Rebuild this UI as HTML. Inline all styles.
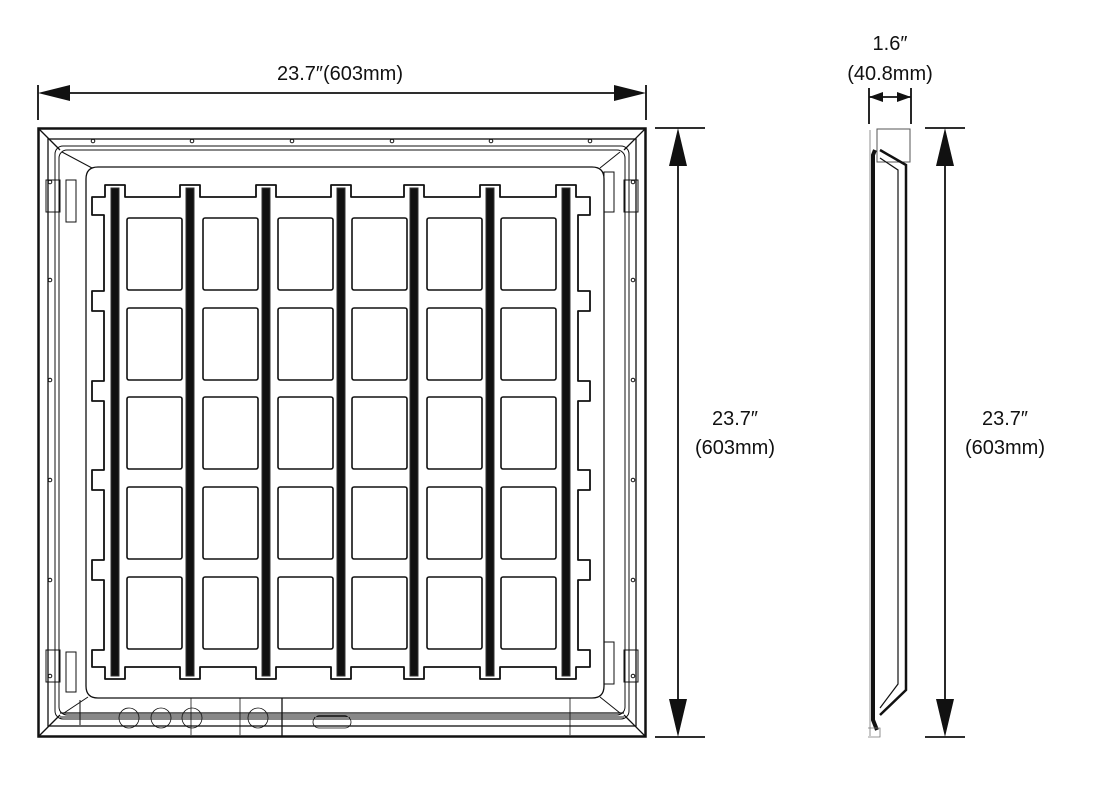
<!DOCTYPE html>
<html><head><meta charset="utf-8"><style>
html,body{margin:0;padding:0;background:#fff;}
svg{display:block}
text{font-family:"Liberation Sans",sans-serif;font-size:20px;fill:#111;}
</style></head><body>
<svg id="s" width="1096" height="792" viewBox="0 0 1096 792" xmlns="http://www.w3.org/2000/svg">
<g fill="none" stroke="#111">
<rect x="38.5" y="128.5" width="607" height="608" stroke-width="2.5"/>
<rect x="48" y="139" width="588" height="587" stroke-width="1.3"/>
<rect x="55" y="146" width="574" height="573" rx="8" stroke-width="1"/>
<rect x="59" y="150" width="566" height="565" rx="8" stroke-width="1"/>
<line x1="38" y1="128" x2="60" y2="150" stroke-width="1.3"/>
<line x1="646" y1="128" x2="624" y2="150" stroke-width="1.3"/>
<line x1="38" y1="737" x2="60" y2="715" stroke-width="1.3"/>
<line x1="646" y1="737" x2="624" y2="715" stroke-width="1.3"/>
<path d="M98,167 H592 Q604,167 604,179 V686 Q604,698 592,698 H98 Q86,698 86,686 V179 Q86,167 98,167 Z" stroke-width="1.3"/>
<path d="M62,152 L92,168 M620,152 L600,168 M64,713 L88,697 M620,713 L600,697" stroke-width="1"/>
<line x1="80" y1="700" x2="80" y2="725" stroke-width="1"/>
<line x1="60" y1="713" x2="624" y2="713" stroke-width="1.3"/>
<line x1="60" y1="717" x2="624" y2="717" stroke-width="1"/>
<line x1="191" y1="698" x2="191" y2="735" stroke-width="0.8"/>
<line x1="240" y1="698" x2="240" y2="735" stroke-width="0.8"/>
<line x1="282" y1="698" x2="282" y2="737" stroke-width="1.3"/>
<line x1="570" y1="698" x2="570" y2="735" stroke-width="0.8"/>
<circle cx="129" cy="718" r="10" stroke-width="0.8"/>
<circle cx="161" cy="718" r="10" stroke-width="0.8"/>
<circle cx="192" cy="718" r="10" stroke-width="0.8"/>
<circle cx="258" cy="718" r="10" stroke-width="0.8"/>
<rect x="313" y="716" width="38" height="12" rx="6" stroke-width="0.8"/>
<rect x="46" y="180" width="14" height="32" stroke-width="1"/>
<rect x="46" y="650" width="14" height="32" stroke-width="1"/>
<rect x="624" y="180" width="14" height="32" stroke-width="1"/>
<rect x="624" y="650" width="14" height="32" stroke-width="1"/>
<path d="M66,180 H76 V222 H66 Z M604,172 H614 V212 H604 Z M66,652 H76 V692 H66 Z M604,642 H614 V684 H604 Z" stroke-width="1"/>
</g>
<g id="dots" fill="none" stroke="#111" stroke-width="1"></g>
<g id="grid" fill="none" stroke="#111"></g>
<g fill="none" stroke="#111">
<rect x="877" y="129" width="33" height="33" stroke-width="1" stroke="#555"/>
<path d="M875,150 L873,155 L873,720 L877,730" stroke-width="4"/>
<path d="M880,150 L906,165 L906,690 L880,715" stroke-width="2.5"/>
<path d="M880,158 L898,170 L898,684 L880,708" stroke-width="1.2"/>
<path d="M870,130 V736 M868,728 H880 V737 H868" stroke-width="0.8" stroke="#777"/>
</g>
<g stroke="#111" stroke-width="1.8" fill="none">
<line x1="38" y1="85" x2="38" y2="120"/>
<line x1="646" y1="85" x2="646" y2="120"/>
<line x1="60" y1="93" x2="624" y2="93"/>
<line x1="655" y1="128" x2="705" y2="128"/>
<line x1="655" y1="737" x2="705" y2="737"/>
<line x1="678" y1="160" x2="678" y2="705"/>
<line x1="925" y1="128" x2="965" y2="128"/>
<line x1="925" y1="737" x2="965" y2="737"/>
<line x1="945" y1="160" x2="945" y2="705"/>
<line x1="869" y1="88" x2="869" y2="124"/>
<line x1="911" y1="88" x2="911" y2="124"/>
<line x1="869" y1="97" x2="911" y2="97"/>
</g>
<g fill="#111">
<polygon points="38,93 70,85 70,101"/>
<polygon points="646,93 614,85 614,101"/>
<polygon points="678,128 669,166 687,166"/>
<polygon points="678,737 669,699 687,699"/>
<polygon points="945,128 936,166 954,166"/>
<polygon points="945,737 936,699 954,699"/>
<polygon points="869,97 883,92 883,102"/>
<polygon points="911,97 897,92 897,102"/>
</g>
<text x="340" y="80" text-anchor="middle">23.7″(603mm)</text>
<text x="735" y="425" text-anchor="middle">23.7″</text>
<text x="735" y="454" text-anchor="middle">(603mm)</text>
<text x="1005" y="425" text-anchor="middle">23.7″</text>
<text x="1005" y="454" text-anchor="middle">(603mm)</text>
<text x="890" y="50" text-anchor="middle">1.6″</text>
<text x="890" y="80" text-anchor="middle">(40.8mm)</text>
</svg>
<script>
(function(){
var NS="http://www.w3.org/2000/svg";
function el(p,n,a){var e=document.createElementNS(NS,n);for(var k in a)e.setAttribute(k,a[k]);p.appendChild(e);return e;}
var g=document.getElementById("grid"),d=document.getElementById("dots");
var bars=[115,190,266,341,414,490,566];
var rows=[[218,290],[308,380],[397,469],[487,559],[577,649]];
var cols=[[127,182],[203,258],[278,333],[352,407],[427,482],[501,556]];
var T=197,B=667,L=104,R=578;
var p="M"+L+","+T;
bars.forEach(function(b){p+=" H"+(b-10)+" V185 H"+(b+10)+" V"+T;});
p+=" H"+R;
var gaps=[203,299,389,478,568,658];
gaps.forEach(function(y){var y0=Math.max(y-8,T),y1=Math.min(y+12,B);p+=" V"+y0+" H"+(R+12)+" V"+y1+" H"+R;});
p+=" V"+B;
bars.slice().reverse().forEach(function(b){p+=" H"+(b+10)+" V679 H"+(b-10)+" V"+B;});
p+=" H"+L;
gaps.slice().reverse().forEach(function(y){var y0=Math.max(y-8,T),y1=Math.min(y+12,B);p+=" V"+y1+" H"+(L-12)+" V"+y0+" H"+L;});
p+=" Z";
el(g,"path",{d:p,"stroke-width":"1.8","stroke-linejoin":"round"});
rows.forEach(function(r){cols.forEach(function(c){el(g,"rect",{x:c[0],y:r[0],width:c[1]-c[0],height:r[1]-r[0],rx:2,"stroke-width":"1.6"});});});
bars.forEach(function(b){el(g,"rect",{x:b-4,y:188,width:8,height:488,fill:"#111",stroke:"#333","stroke-width":"1"});});
[93,192,292,392,491,590].forEach(function(x){el(d,"circle",{cx:x,cy:141,r:1.8});});
[182,280,380,480,580,676].forEach(function(y){el(d,"circle",{cx:50,cy:y,r:1.8});el(d,"circle",{cx:633,cy:y,r:1.8});});
})();
</script>
</body></html>
